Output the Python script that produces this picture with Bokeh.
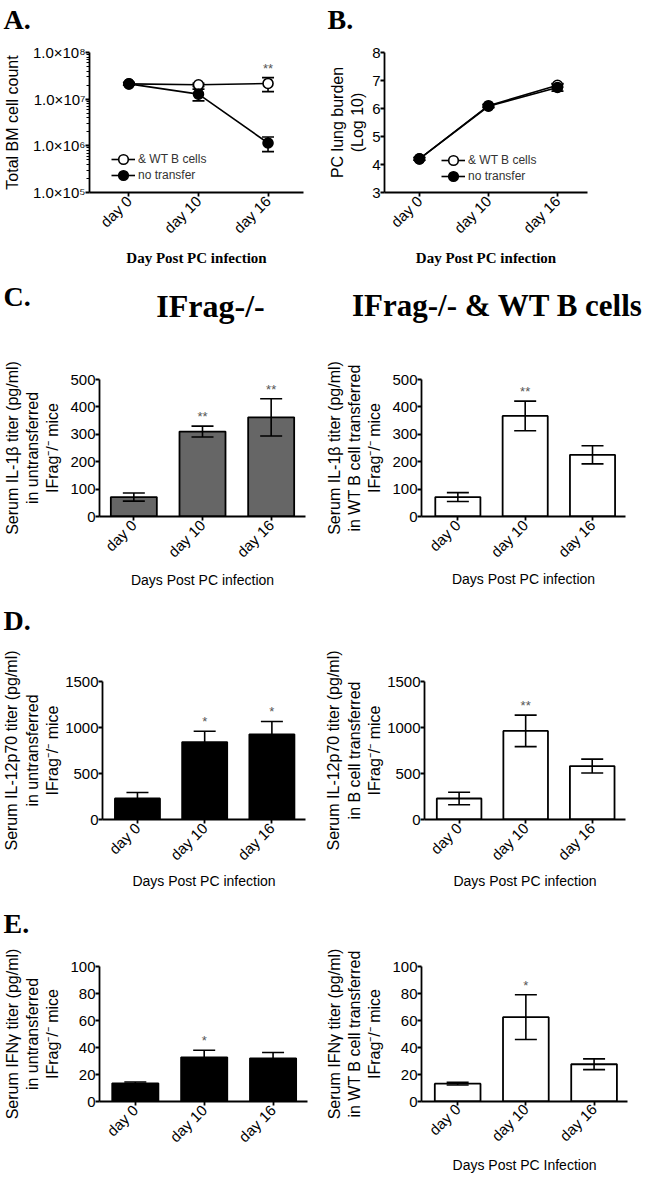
from math import pi
from bokeh.plotting import figure
from bokeh.models import (Range1d, FixedTicker, Whisker, TeeHead, ColumnDataSource,
                          Legend, LegendItem)
from bokeh.layouts import column, row
from bokeh.embed import file_html
from bokeh.resources import INLINE
from bokeh.core.properties import value

# ---------------- data ----------------
days = ["day 0", "day 10", "day 16"]
series_labels = ["& WT B cells", "no transfer"]

# A: total BM cell count (log)
a_wt_mean = [2.13e7, 2.03e7, 2.17e7]
a_wt_err = [1.5e6, 1.5e6, 7.2e6]
a_nt_mean = [2.13e7, 1.28e7, 1.15e6]
a_nt_err = [1.5e6, 3.6e6, 4.0e5]
a_stars = ["", "", "**"]
a_yticks = [1e5, 1e6, 1e7, 1e8]
a_ytick_labels = ["1.0×10⁵", "1.0×10⁶", "1.0×10⁷", "1.0×10⁸"]

# B: PC lung burden (log10)
b_wt_mean = [4.2, 6.1, 6.83]
b_wt_err = [0.05, 0.05, 0.06]
b_nt_mean = [4.2, 6.08, 6.75]
b_nt_err = [0.05, 0.05, 0.13]
b_yticks = [3, 4, 5, 6, 7, 8]

# C: IL-1beta
c1_mean = [71, 310, 362]
c1_err = [15, 20, 68]
c1_stars = ["", "**", "**"]
c2_mean = [71, 367, 225]
c2_err = [16, 54, 33]
c2_stars = ["", "**", ""]
c_yticks = [0, 100, 200, 300, 400, 500]

# D: IL-12p70
d1_mean = [228, 842, 926]
d1_err = [66, 118, 140]
d1_stars = ["", "*", "*"]
d2_mean = [228, 963, 581]
d2_err = [68, 171, 75]
d2_stars = ["", "**", ""]
d_yticks = [0, 500, 1000, 1500]

# E: IFN-gamma
e1_mean = [13.5, 32.7, 32.0]
e1_err = [1.0, 5.3, 4.3]
e1_stars = ["", "*", ""]
e2_mean = [13.2, 62.5, 27.6]
e2_err = [1.0, 16.6, 4.0]
e2_stars = ["", "*", ""]
e_yticks = [0, 20, 40, 60, 80, 100]

SANS = "Liberation Sans"
SERIF = "Liberation Serif"
PAGE_W = 646


def base_fig(w, h, left, right, top, bottom, x_range, y_range, ylab_standoff,
             xlab_standoff, y_axis_type="linear"):
    p = figure(width=w, height=h, x_range=x_range, y_range=y_range,
               y_axis_type=y_axis_type, output_backend="svg", toolbar_location=None,
               min_border_left=left, min_border_right=right,
               min_border_top=top, min_border_bottom=bottom)
    p.grid.visible = False
    p.outline_line_color = None
    for ax in p.axis:
        ax.axis_line_width = 1.8
        ax.axis_line_color = "black"
        ax.major_tick_line_width = 1.8
        ax.major_tick_line_color = "black"
        ax.major_tick_in = 0
        ax.major_tick_out = 4
        ax.minor_tick_line_color = None
        ax.major_label_text_font = SANS
        ax.major_label_text_font_size = "15px"
        ax.major_label_text_color = "black"
        ax.axis_label_text_font = SANS
        ax.axis_label_text_font_style = "normal"
        ax.axis_label_text_color = "black"
    p.yaxis.major_label_standoff = 0
    p.yaxis.axis_label_text_font_size = "16px"
    p.yaxis.axis_label_standoff = ylab_standoff
    xs = list(range(len(days)))
    p.xaxis.ticker = FixedTicker(ticks=xs)
    p.xaxis.major_label_overrides = {i: d for i, d in enumerate(days)}
    p.xaxis.major_label_orientation = pi / 4
    p.xaxis.major_label_text_font_size = "15px"
    p.xaxis.major_label_standoff = 2
    p.xaxis.axis_label_text_font_size = "14px"
    p.xaxis.axis_label_standoff = xlab_standoff
    return p


def make_legend(renderers, label, loc):
    return Legend(items=[LegendItem(label=label, renderers=renderers)],
                  location=loc, padding=0, margin=0, spacing=0,
                  glyph_width=24, glyph_height=24, label_standoff=3,
                  label_text_font=SANS, label_text_font_size="12px",
                  label_text_color="#333333", border_line_color=None,
                  background_fill_alpha=0)


def line_panel(w, h, left, right, top, bottom, x_range, y_range, y_axis_type,
               wt_mean, wt_err, nt_mean, nt_err, stars, ylabel, ylab_standoff,
               leg_x, leg_y1, leg_y2):
    p = base_fig(w, h, left, right, top, bottom, x_range, y_range, ylab_standoff, 5,
                 y_axis_type)
    xs = list(range(len(days)))
    wt = ColumnDataSource(dict(x=xs, y=wt_mean,
                               upper=[m + e for m, e in zip(wt_mean, wt_err)],
                               lower=[m - e for m, e in zip(wt_mean, wt_err)]))
    nt = ColumnDataSource(dict(x=xs, y=nt_mean,
                               upper=[m + e for m, e in zip(nt_mean, nt_err)],
                               lower=[m - e for m, e in zip(nt_mean, nt_err)]))
    for src in (wt, nt):
        p.add_layout(Whisker(base="x", upper="upper", lower="lower", source=src,
                             level="underlay", line_color="black", line_width=1.6,
                             upper_head=TeeHead(size=12, line_width=1.6, line_color="black"),
                             lower_head=TeeHead(size=12, line_width=1.6, line_color="black")))
    l1 = p.line("x", "y", source=wt, line_color="black", line_width=1.6)
    s1 = p.scatter("x", "y", source=wt, size=10, marker="circle", fill_color="white",
                   line_color="black", line_width=1.6)
    l2 = p.line("x", "y", source=nt, line_color="black", line_width=1.6)
    s2 = p.scatter("x", "y", source=nt, size=10, marker="circle", fill_color="black",
                   line_color="black", line_width=1.6)
    if stars is not None:
        top_vals = [max(a, b) for a, b in zip(wt.data["upper"], nt.data["upper"])]
        p.text(x=xs, y=top_vals, text=stars, text_align="center", text_baseline="bottom",
               y_offset=-2, text_font=value(SANS), text_font_size="13px", text_color="#555555")
    p.add_layout(make_legend([l1, s1], series_labels[0], (leg_x, leg_y1)))
    p.add_layout(make_legend([l2, s2], series_labels[1], (leg_x, leg_y2)))
    p.yaxis.axis_label = ylabel
    p.xaxis.axis_label = "Day Post PC infection"
    p.xaxis.axis_label_text_font = SERIF
    p.xaxis.axis_label_text_font_style = "bold"
    p.xaxis.axis_label_text_font_size = "15px"
    return p


def bar_panel(w, h, left, right, top, bottom, x_range, means, errs, stars, yticks,
              fill, ylabel, xlabel, ylab_standoff, xlab_standoff):
    p = base_fig(w, h, left, right, top, bottom, x_range,
                 Range1d(yticks[0], yticks[-1]), ylab_standoff, xlab_standoff)
    xs = list(range(len(days)))
    src = ColumnDataSource(dict(x=xs, top=means,
                                upper=[m + e for m, e in zip(means, errs)],
                                lower=[m - e for m, e in zip(means, errs)],
                                stars=stars))
    p.vbar(x="x", top="top", width=0.67, source=src, fill_color=fill,
           line_color="black", line_width=1.8)
    p.add_layout(Whisker(base="x", upper="upper", lower="lower", source=src,
                         level="annotation", line_color="black", line_width=1.6,
                         upper_head=TeeHead(size=22, line_width=1.6, line_color="black"),
                         lower_head=TeeHead(size=22, line_width=1.6, line_color="black")))
    p.text(x="x", y="upper", text="stars", source=src, text_align="center",
           text_baseline="bottom", y_offset=-2, text_font=value(SANS),
           text_font_size="13px", text_color="#555555")
    p.yaxis.ticker = FixedTicker(ticks=yticks)
    p.yaxis.axis_label = ylabel
    if xlabel:
        p.xaxis.axis_label = xlabel
    return p


def header(y0, y1, items):
    p = figure(width=PAGE_W, height=y1 - y0, x_range=Range1d(0, PAGE_W),
               y_range=Range1d(y1, y0), output_backend="svg", toolbar_location=None,
               x_axis_location=None, y_axis_location=None,
               min_border_left=0, min_border_right=0, min_border_top=0, min_border_bottom=0)
    p.grid.visible = False
    p.outline_line_color = None
    for (x, y, t, size, align) in items:
        p.text(x=[x], y=[y], text=[t], text_font=value(SERIF), text_font_style="bold",
               text_font_size=size, text_align=align, text_baseline="middle",
               text_color="black")
    return p


# ---------------- panels ----------------
hA = header(0, 40, [(3, 19, "A.", "28px", "left"), (327, 19, "B.", "28px", "left")])

pA = line_panel(325, 230, 86, 22, 12, 77, Range1d(-0.567, 2.51), Range1d(1e5, 1e8), "log",
                a_wt_mean, a_wt_err, a_nt_mean, a_nt_err, a_stars,
                "Total BM cell count", 9, 22, 21, 5)
pA.yaxis.ticker = FixedTicker(ticks=a_yticks,
                              minor_ticks=[k * 10 ** e for e in (5, 6, 7) for k in range(2, 10)])
pA.yaxis.major_label_overrides = {t: s for t, s in zip(a_yticks, a_ytick_labels)}
pA.yaxis.minor_tick_line_color = "black"
pA.yaxis.minor_tick_line_width = 1
pA.yaxis.minor_tick_in = 0
pA.yaxis.minor_tick_out = 3

pB = line_panel(321, 230, 54, 59, 12, 78, Range1d(-0.506, 2.435), Range1d(3, 8), "linear",
                b_wt_mean, b_wt_err, b_nt_mean, b_nt_err, None,
                "PC lung burden\n(Log 10)", 3, 57, 20, 4)
pB.yaxis.ticker = FixedTicker(ticks=b_yticks)

hC = header(270, 340, [(3, 296, "C.", "28px", "left"),
                       (210, 305, "IFrag-/-", "32px", "center"),
                       (497, 305, "IFrag-/- & WT B cells", "31px", "center")])

pC1 = bar_panel(322, 252, 95, 17, 37, 76, Range1d(-0.5, 2.5), c1_mean, c1_err, c1_stars,
                c_yticks, "#666666",
                "Serum IL-1β titer (pg/ml)\nin untransferred\nIFrag⁻/⁻ mice",
                "Days Post PC infection", 6, 3)
pC2 = bar_panel(324, 252, 92, 21, 39, 74, Range1d(-0.54, 2.49), c2_mean, c2_err, c2_stars,
                c_yticks, "white",
                "Serum IL-1β titer (pg/ml)\nin WT B cell transferred\nIFrag⁻/⁻ mice",
                "Days Post PC infection", 6, 2)

hD = header(592, 648, [(3, 620, "D.", "28px", "left")])

pD1 = bar_panel(322, 244, 98, 17, 33, 73, Range1d(-0.52, 2.5), d1_mean, d1_err, d1_stars,
                d_yticks, "black",
                "Serum IL-12p70 titer (pg/ml)\nin untransferred\nIFrag⁻/⁻ mice",
                "Days Post PC infection", 1, 1)
pD2 = bar_panel(324, 244, 96, 21, 33, 73, Range1d(-0.52, 2.5), d2_mean, d2_err, d2_stars,
                d_yticks, "white",
                "Serum IL-12p70 titer (pg/ml)\nin B cell transferred\nIFrag⁻/⁻ mice",
                "Days Post PC infection", 1, 1)

hE = header(892, 943, [(3, 923, "E.", "28px", "left")])

pE1 = bar_panel(322, 233, 97, 15, 23, 72, Range1d(-0.52, 2.5), e1_mean, e1_err, e1_stars,
                e_yticks, "black",
                "Serum IFNγ titer (pg/ml)\nin untransferred\nIFrag⁻/⁻ mice", None, 6, 0)
pE2 = bar_panel(324, 233, 95, 19, 23, 72, Range1d(-0.53, 2.49), e2_mean, e2_err, e2_stars,
                e_yticks, "white",
                "Serum IFNγ titer (pg/ml)\nin WT B cell transferred\nIFrag⁻/⁻ mice",
                "Days Post PC Infection", 6, 4)
pE2.xaxis.major_label_standoff = 1

layout = column(hA, row(pA, pB), hC, row(pC1, pC2), hD, row(pD1, pD2), hE, row(pE1, pE2))

open("out.html", "w").write(file_html(layout, INLINE))
